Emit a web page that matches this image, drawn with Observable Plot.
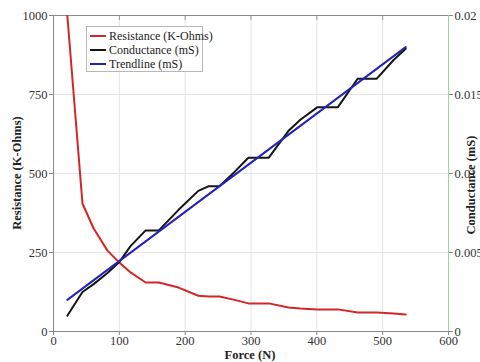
<!DOCTYPE html>
<html>
<head>
<meta charset="utf-8">
<script src="https://cdn.jsdelivr.net/npm/d3@7"></script>
<script src="https://cdn.jsdelivr.net/npm/@observablehq/plot@0.6"></script>
<style>
  html, body { margin: 0; padding: 0; background: #fff; }
  #wrap { position: relative; width: 480px; height: 362px; overflow: hidden; }
  #wrap svg text, #wrap svg { font-family: "Liberation Serif", "Times New Roman", "DejaVu Serif", serif !important; }
  #legend { position: absolute; left: 86px; top: 26px; width: 117px; height: 46px; border: 1px solid #b8b8b8; background: #fff;
    font-family: "Liberation Serif", "Times New Roman", "DejaVu Serif", serif; font-size: 12px; color: #222; box-sizing: border-box; padding: 2px 0 0 3px; white-space: nowrap; }
  #legend .row { display: flex; align-items: center; height: 14px; }
  #legend .row svg { margin-right: 3px; flex: none; }
</style>
</head>
<body>
<div id="wrap"><div id="legend"></div></div>
<script>
// ---- data ----
const force = [21, 44, 61, 82, 100, 117, 140, 160, 190, 220, 236, 252, 275, 296, 327, 357, 375, 401, 432, 462, 491, 517, 535];
const resistance = [1000, 405, 326, 256, 218, 187, 155, 155, 139, 113, 111, 111, 100, 89, 89, 76, 73, 70, 70, 60, 60, 57, 54];
const conductance = [0.0010, 0.0025, 0.0030, 0.0037, 0.0044, 0.0054, 0.0064, 0.0064, 0.0077, 0.0089, 0.0092, 0.0092, 0.0101, 0.0110, 0.0110, 0.0127, 0.0134, 0.0142, 0.0142, 0.0160, 0.0160, 0.0172, 0.0179];
const trendForce = [21, 535];
const trendConductance = [0.0020, 0.0180];

const xTicks = [0, 100, 200, 300, 400, 500, 600];
const yLeftTicks = [0, 250, 500, 750, 1000];
const yRightTicks = [0, 0.005, 0.01, 0.015, 0.02];
const yRightLabels = ["0", "0.005", "0.01", "0.015", "0.02"];

const seriesNames = ["Resistance (K-Ohms)", "Conductance (mS)", "Trendline (mS)"];
const seriesColors = ["#d42626", "#151515", "#2323b8"];

// conductance mapped onto the resistance scale (0.02 mS <-> 1000 K-Ohms)
const k = 1000 / 0.02;
const resData = force.map((f, i) => ({f, v: resistance[i]}));
const condData = force.map((f, i) => ({f, v: conductance[i] * k}));
const trendData = trendForce.map((f, i) => ({f, v: trendConductance[i] * k}));

const chart = Plot.plot({
  width: 480,
  height: 362,
  marginLeft: 53,
  marginRight: 32,
  marginTop: 15,
  marginBottom: 31,
  style: {fontFamily: "'Liberation Serif', 'Times New Roman', serif", fontSize: "12.5px", color: "#333", background: "transparent"},
  x: {domain: [0, 600]},
  y: {domain: [0, 1000]},
  marks: [
    Plot.gridX(xTicks, {stroke: "#e4e4e4", strokeOpacity: 1}),
    Plot.gridY(yLeftTicks, {stroke: "#e4e4e4", strokeOpacity: 1}),
    Plot.ruleX(xTicks, {y1: 1000, y2: 984, stroke: "#999"}),
    Plot.axisX(xTicks, {anchor: "bottom", tickSize: 4, tickPadding: 1, label: null, stroke: "#888", tickFormat: d => String(d)}),
    Plot.axisY(yLeftTicks, {anchor: "left", tickSize: 4, tickPadding: 2, label: null, stroke: "#888", tickFormat: d => String(d)}),
    Plot.axisY(yRightTicks.map(v => v * k), {anchor: "right", tickSize: 4, tickPadding: 2, label: null, stroke: "#888",
      tickFormat: (d) => yRightLabels[yRightTicks.findIndex(t => Math.abs(t * k - d) < 1e-6)]}),
    Plot.ruleY([0, 1000], {stroke: "#8a8a8a"}),
    Plot.ruleX([0], {stroke: "#8a8a8a"}),
    Plot.ruleX([600], {stroke: "#9fd49f"}),
    Plot.line(resData, {x: "f", y: "v", stroke: seriesColors[0], strokeWidth: 2, clip: true}),
    Plot.line(condData, {x: "f", y: "v", stroke: seriesColors[1], strokeWidth: 2, clip: true}),
    Plot.line(trendData, {x: "f", y: "v", stroke: seriesColors[2], strokeWidth: 2, clip: true})
  ]
});

const svg = d3.select(chart);
svg.append("text")
  .attr("transform", "translate(21,173) rotate(-90)")
  .attr("text-anchor", "middle")
  .attr("font-weight", "bold").attr("font-size", 12.5).attr("fill", "#222")
  .text("Resistance (K-Ohms)");
svg.append("text")
  .attr("transform", "translate(475,185) rotate(-90)")
  .attr("text-anchor", "middle")
  .attr("font-weight", "bold").attr("font-size", 12.5).attr("fill", "#222")
  .text("Conductance (mS)");
svg.append("text")
  .attr("x", 250).attr("y", 359)
  .attr("text-anchor", "middle")
  .attr("font-weight", "bold").attr("font-size", 12.5).attr("fill", "#222")
  .text("Force (N)");

const wrap = document.getElementById("wrap");
wrap.insertBefore(chart, wrap.firstChild);

const legend = d3.select("#legend");
seriesNames.forEach((name, i) => {
  const row = legend.append("div").attr("class", "row");
  const s = row.append("svg").attr("width", 16).attr("height", 10);
  s.append("line").attr("x1", 0).attr("x2", 16).attr("y1", 5).attr("y2", 5)
    .attr("stroke", seriesColors[i]).attr("stroke-width", 2);
  row.append("span").text(name);
});
</script>
</body>
</html>
